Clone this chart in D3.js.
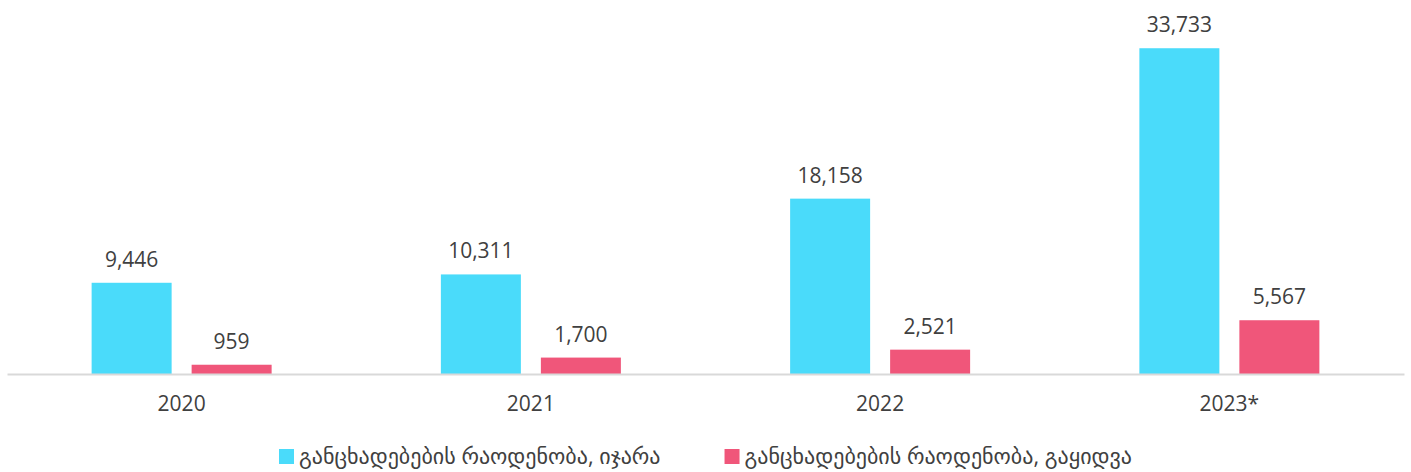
<!DOCTYPE html>
<html>
<head>
<meta charset="utf-8">
<script src="https://cdn.jsdelivr.net/npm/d3@7"></script>
<style>
  body { margin: 0; background: #fff; }
  text { font-family: "Open Sans", "DejaVu Sans", sans-serif; fill: #404040; }
</style>
</head>
<body>
<div id="chart"></div>
<script>
// Data.
var years = ["2020", "2021", "2022", "2023*"];
var seriesNames = ["განცხადებების რაოდენობა, იჯარა", "განცხადებების რაოდენობა, გაყიდვა"];
var rentValues = [9446, 10311, 18158, 33733];
var saleValues = [959, 1700, 2521, 5567];
var seriesColors = ["#4adbfa", "#f0567a"];

var svgWidth = 1411;
var svgHeight = 472;

var margin = { top: 36, right: 7, bottom: 98, left: 7 };
var width = svgWidth - margin.left - margin.right;
var height = svgHeight - margin.top - margin.bottom;

var rows = years.map(function (y, i) {
  return { year: y, values: [rentValues[i], saleValues[i]] };
});

var svg = d3.select("#chart")
  .append("svg")
  .attr("width", svgWidth)
  .attr("height", svgHeight);

var chartGroup = svg.append("g")
  .attr("transform", `translate(${margin.left}, ${margin.top})`);

// Scales.
var x0 = d3.scaleBand()
  .domain(years)
  .range([0, width])
  .padding(0);

var x1 = d3.scaleBand()
  .domain([0, 1])
  .range([0, 180])
  .paddingInner(0.2);

var yScale = d3.scaleLinear()
  .domain([0, 35000])
  .range([height, 0]);

var innerOffset = (x0.bandwidth() - 180) / 2;

// Bars.
var groups = chartGroup.selectAll(".year")
  .data(rows)
  .enter()
  .append("g")
  .attr("class", "year")
  .attr("transform", d => `translate(${x0(d.year) + innerOffset}, 0)`);

groups.selectAll("rect")
  .data(d => d.values.map((v, i) => ({ v: v, i: i })))
  .enter()
  .append("rect")
  .attr("x", d => x1(d.i))
  .attr("y", d => yScale(d.v))
  .attr("width", x1.bandwidth())
  .attr("height", d => height - yScale(d.v))
  .attr("fill", d => seriesColors[d.i]);

// Value labels.
groups.selectAll(".val")
  .data(d => d.values.map((v, i) => ({ v: v, i: i })))
  .enter()
  .append("text")
  .attr("class", "val")
  .attr("x", d => x1(d.i) + x1.bandwidth() / 2)
  .attr("y", d => yScale(d.v) - 16)
  .attr("text-anchor", "middle")
  .attr("font-size", "21px")
  .text(d => d3.format(",")(d.v));

// Axis.
var bottomAxis = d3.axisBottom(x0).tickSize(0).tickPadding(22);
var axisG = chartGroup.append("g")
  .attr("transform", `translate(0, ${height})`)
  .call(bottomAxis);
axisG.select(".domain").attr("stroke", "#d9d9d9").attr("stroke-width", 2);
axisG.selectAll("text")
  .attr("font-size", "21px")
  .attr("fill", "#404040")
  .style("font-family", "'Open Sans', 'DejaVu Sans', sans-serif");

// Legend.
var legend = svg.append("g").attr("transform", "translate(0, 456)");
var items = legend.selectAll(".item")
  .data(seriesNames)
  .enter()
  .append("g")
  .attr("class", "item");

items.append("rect")
  .attr("y", -7)
  .attr("width", 15)
  .attr("height", 15)
  .attr("fill", (d, i) => seriesColors[i]);

items.append("text")
  .attr("x", 20)
  .attr("y", 8)
  .attr("font-size", "22px")
  .text(d => d);

var widths = [];
items.each(function () { widths.push(this.getBBox().width); });
var gap = 64;
var total = d3.sum(widths) + gap * (widths.length - 1);
var startX = (svgWidth - total) / 2;
items.attr("transform", function (d, i) {
  var xPos = startX + d3.sum(widths.slice(0, i)) + gap * i;
  return `translate(${xPos}, 0)`;
});
</script>
</body>
</html>
